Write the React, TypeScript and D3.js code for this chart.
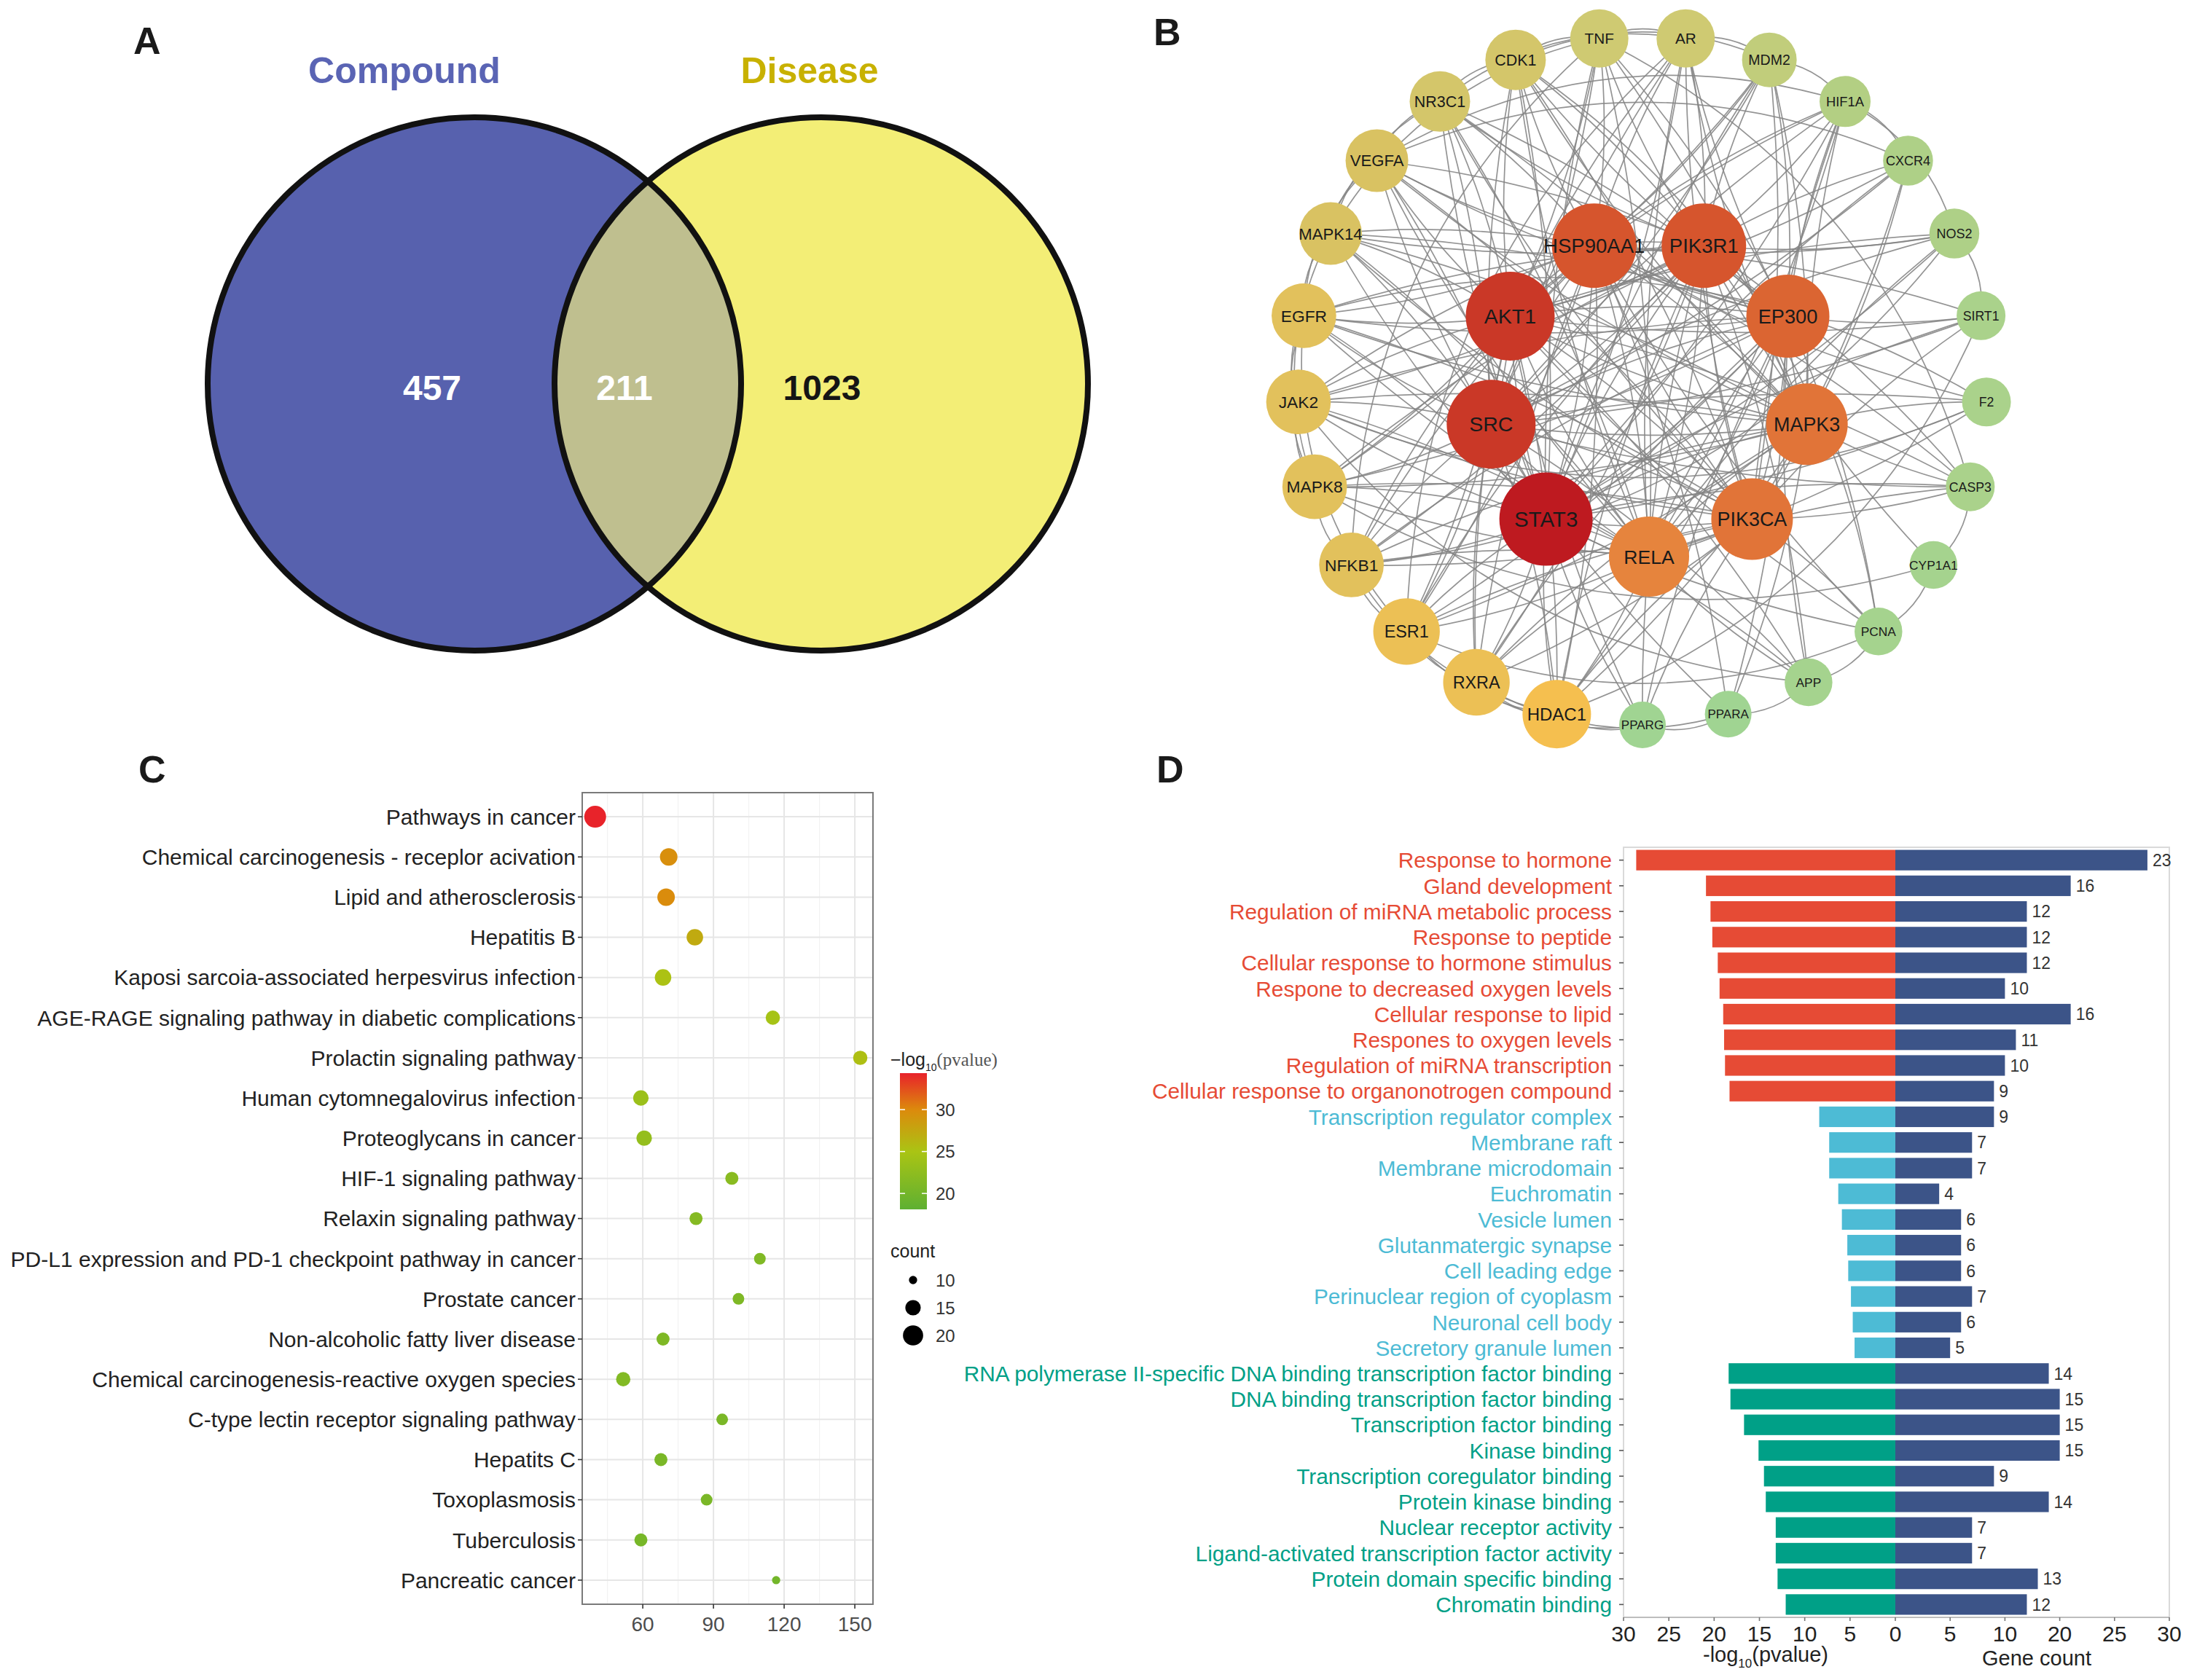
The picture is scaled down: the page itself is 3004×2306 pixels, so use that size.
import React, { useEffect } from "react";
import * as d3 from "d3";

const W = 3004;
const H = 2306;
const SANS = "'Liberation Sans', Arial, Helvetica, sans-serif";
const SERIF = "'Liberation Serif', 'Times New Roman', serif";

// ---------- A: Venn ----------
const vennSets = ["Compound", "Disease"];
const vennFill = ["#5761AE", "#F3EE76"];
const vennTitleColor = ["#5A64B4", "#C8B100"];
const vennCounts = [457, 211, 1023]; // compound only, shared, disease only

// ---------- B: PPI network ----------
const hubNodes = ["STAT3", "SRC", "AKT1", "HSP90AA1", "PIK3R1", "EP300", "MAPK3", "PIK3CA", "RELA"];
const hubDegree = [31, 30, 30, 29, 29, 28, 27, 27, 26];
const ringNodes = [
  "HDAC1", "RXRA", "ESR1", "NFKB1", "MAPK8", "JAK2", "EGFR", "MAPK14", "VEGFA", "NR3C1",
  "CDK1", "TNF", "AR", "MDM2", "HIF1A", "CXCR4", "NOS2", "SIRT1", "F2", "CASP3",
  "CYP1A1", "PCNA", "APP", "PPARA", "PPARG",
];
const ringDegree = [20, 19, 19, 18, 18, 18, 18, 17, 17, 16, 16, 15, 15, 14, 13, 12, 12, 11, 11, 11, 10, 10, 10, 9, 9];
// outer nodes that a hub is NOT linked to (hubs are linked to each other and to all the rest)
const hubMissing: Record<string, string[]> = {
  STAT3: ["CYP1A1", "PPARA"],
  SRC: ["CYP1A1", "PCNA", "PPARG"],
  AKT1: ["F2", "CYP1A1", "PPARA"],
  HSP90AA1: ["CXCR4", "CYP1A1", "PPARG", "APP"],
  PIK3R1: ["SIRT1", "F2", "PCNA", "PPARA"],
  EP300: ["CXCR4", "NOS2", "F2", "CASP3", "CYP1A1"],
  MAPK3: ["NOS2", "SIRT1", "CYP1A1", "PCNA", "APP", "PPARG"],
  PIK3CA: ["TNF", "NOS2", "F2", "CYP1A1", "APP", "PPARA"],
  RELA: ["MDM2", "CXCR4", "SIRT1", "CYP1A1", "PCNA", "PPARA", "PPARG"],
};
const ringLinks: [string, string][] = [
  ["HDAC1", "ESR1"], ["HDAC1", "RXRA"], ["HDAC1", "NFKB1"], ["HDAC1", "PPARG"], ["HDAC1", "SIRT1"],
  ["RXRA", "PPARG"], ["RXRA", "PPARA"], ["RXRA", "ESR1"], ["ESR1", "EGFR"], ["ESR1", "NFKB1"],
  ["ESR1", "AR"], ["ESR1", "PCNA"], ["NFKB1", "TNF"], ["NFKB1", "MAPK8"], ["NFKB1", "NOS2"],
  ["MAPK8", "JAK2"], ["MAPK8", "MAPK14"], ["JAK2", "EGFR"], ["JAK2", "F2"], ["EGFR", "VEGFA"],
  ["EGFR", "MAPK14"], ["MAPK14", "TNF"], ["VEGFA", "HIF1A"], ["VEGFA", "NR3C1"], ["VEGFA", "CXCR4"],
  ["NR3C1", "AR"], ["NR3C1", "CDK1"], ["CDK1", "MDM2"], ["CDK1", "PCNA"], ["TNF", "AR"],
  ["TNF", "CASP3"], ["AR", "MDM2"], ["MDM2", "HIF1A"], ["HIF1A", "CXCR4"], ["HIF1A", "NOS2"],
  ["NOS2", "SIRT1"], ["CASP3", "CYP1A1"], ["CYP1A1", "PCNA"], ["PCNA", "APP"], ["APP", "PPARA"],
  ["PPARA", "PPARG"], ["CYP1A1", "MAPK8"], ["F2", "EGFR"], ["APP", "JAK2"], ["MAPK14", "VEGFA"],
  ["EGFR", "MAPK8"], ["NR3C1", "MAPK14"], ["TNF", "CDK1"],
];
const degStops = [9, 13, 15, 17, 20, 26, 29, 31];
const degColors = ["#A0D492", "#B3CF83", "#CFCA72", "#D9C262", "#F5BF4F", "#E6843D", "#D6552D", "#BE1A20"];
const degRadius = [32, 35, 40, 43, 47, 55, 58, 64];

// ---------- C: KEGG dot plot ----------
const keggTerms = [
  "Pathways in cancer",
  "Chemical carcinogenesis - receplor acivation",
  "Lipid and atherosclerosis",
  "Hepatitis B",
  "Kaposi sarcoia-associated herpesvirus infection",
  "AGE-RAGE signaling pathway in diabetic complications",
  "Prolactin signaling pathway",
  "Human cytomnegalovirus infection",
  "Proteoglycans in cancer",
  "HIF-1 signaling pathway",
  "Relaxin signaling pathway",
  "PD-L1 expression and PD-1 checkpoint pathway in cancer",
  "Prostate cancer",
  "Non-alcoholic fatty liver disease",
  "Chemical carcinogenesis-reactive oxygen species",
  "C-type lectin receptor signaling pathway",
  "Hepatits C",
  "Toxoplasmosis",
  "Tuberculosis",
  "Pancreatic cancer",
];
const keggX = [39.8, 71.0, 69.9, 82.1, 68.6, 115.2, 152.3, 59.2, 60.6, 97.8, 82.6, 109.7, 100.6, 68.6, 51.7, 93.7, 67.7, 87.1, 59.2, 116.6];
const keggLogP = [34.3, 29.6, 29.8, 27.2, 25.2, 24.6, 25.4, 23.6, 23.0, 22.0, 21.6, 21.2, 21.0, 21.0, 21.4, 20.6, 20.6, 20.6, 20.4, 20.0];
const keggCount = [22, 17, 17, 16, 16, 14, 14, 15, 15, 13, 13, 12, 12, 13, 14, 12, 13, 12, 13, 10];
const keggXTicks = [60, 90, 120, 150];
const keggXMinor = [45, 75, 105, 135];
const pStops = [18.1, 25, 30, 34.35];
const pColors = ["#5EB032", "#AAC414", "#DC8A0C", "#E8222A"];
const pLegendTicks = [20, 25, 30];
const countLegend = [10, 15, 20];

// ---------- D: GO bars ----------
const bpTerms = [
  "Response to hormone", "Gland development", "Regulation of miRNA metabolic process",
  "Response to peptide", "Cellular response to hormone stimulus", "Respone to decreased oxygen levels",
  "Cellular response to lipid", "Respones to oxygen levels", "Regulation of miRNA transcription",
  "Cellular response to organonotrogen compound",
];
const bpLogP = [28.6, 20.9, 20.4, 20.2, 19.6, 19.4, 19.0, 18.9, 18.8, 18.3];
const bpCount = [23, 16, 12, 12, 12, 10, 16, 11, 10, 9];
const ccTerms = [
  "Transcription regulator complex", "Membrane raft", "Membrane microdomain", "Euchromatin",
  "Vesicle lumen", "Glutanmatergic synapse", "Cell leading edge", "Perinuclear region of cyoplasm",
  "Neuronal cell body", "Secretory granule lumen",
];
const ccLogP = [8.4, 7.3, 7.3, 6.3, 5.9, 5.3, 5.2, 4.9, 4.7, 4.5];
const ccCount = [9, 7, 7, 4, 6, 6, 6, 7, 6, 5];
const mfTerms = [
  "RNA polymerase II-specific DNA binding transcription factor binding",
  "DNA binding transcription factor binding", "Transcription factor binding", "Kinase binding",
  "Transcription coregulator binding", "Protein kinase binding", "Nuclear receptor activity",
  "Ligand-activated transcription factor activity", "Protein domain specific binding", "Chromatin binding",
];
const mfLogP = [18.4, 18.2, 16.7, 15.1, 14.5, 14.3, 13.2, 13.2, 13.0, 12.1];
const mfCount = [14, 15, 15, 15, 9, 14, 7, 7, 13, 12];
const goColors = ["#E64B35", "#4DBBD5", "#00A087"];
const countColor = "#3C5488";
const leftTicks = [30, 25, 20, 15, 10, 5, 0];
const rightTicks = [5, 10, 15, 20, 25];
const rightTickLabels = ["5", "10", "20", "25", "30"];

function VennPanel() {
  const r = 366;
  const cy = 527;
  const cx = [651, 1127];
  const labelX = [593, 857, 1128];
  return (
    <g>
      <defs>
        <clipPath id="venn-left">
          <circle cx={cx[0]} cy={cy} r={r} />
        </clipPath>
      </defs>
      {cx.map((c, i) => (
        <circle key={i} cx={c} cy={cy} r={r} fill={vennFill[i]} />
      ))}
      <circle cx={cx[1]} cy={cy} r={r} fill="#BFBF8F" clipPath="url(#venn-left)" />
      {cx.map((c, i) => (
        <circle key={"o" + i} cx={c} cy={cy} r={r} fill="none" stroke="#111" strokeWidth={8} />
      ))}
      {vennSets.map((s, i) => (
        <text key={s} x={[555, 1111][i]} y={114} textAnchor="middle" fontWeight="bold" fontSize={50} fill={vennTitleColor[i]}>
          {s}
        </text>
      ))}
      {vennCounts.map((v, i) => (
        <text key={i} x={labelX[i]} y={532} dy="0.36em" textAnchor="middle" fontWeight="bold" fontSize={48} fill={i < 2 ? "#fff" : "#151515"}>
          {v}
        </text>
      ))}
    </g>
  );
}

type NodePos = { name: string; x: number; y: number; deg: number };

function NetworkPanel() {
  const ringAngle = d3.scaleLinear().domain([0, ringNodes.length]).range([194.4, 554.4]);
  const hubAngle = d3.scaleLinear().domain([0, hubNodes.length]).range([220, 580]);
  const outer = { x: 2254, y: 522, r: 473 };
  const inner = { x: 2263, y: 544, r: 220 };
  const pos = new Map<string, NodePos>();
  ringNodes.forEach((n, i) => {
    const a = (ringAngle(i) * Math.PI) / 180;
    pos.set(n, { name: n, x: outer.x + outer.r * Math.sin(a), y: outer.y - outer.r * Math.cos(a), deg: ringDegree[i] });
  });
  hubNodes.forEach((n, i) => {
    const a = (hubAngle(i) * Math.PI) / 180;
    pos.set(n, { name: n, x: inner.x + inner.r * Math.sin(a), y: inner.y - inner.r * Math.cos(a), deg: hubDegree[i] });
  });

  const links: [string, string, boolean][] = [];
  hubNodes.forEach((a, i) => hubNodes.slice(i + 1).forEach((b) => links.push([a, b, false])));
  hubNodes.forEach((h) =>
    ringNodes.forEach((n) => {
      if (!hubMissing[h].includes(n)) links.push([h, n, false]);
    }),
  );
  ringLinks.forEach(([a, b]) => links.push([a, b, true]));

  const color = d3.scaleLinear<string>().domain(degStops).range(degColors).interpolate(d3.interpolateRgb);
  const radius = d3.scaleLinear().domain(degStops).range(degRadius);
  const fontSize = d3.scaleLinear().domain([32, 47, 64]).range([17, 24, 29.5]);

  const edgePath = (s: NodePos, t: NodePos, ring: boolean, i: number) => {
    const mx = (s.x + t.x) / 2;
    const my = (s.y + t.y) / 2;
    const dx = t.x - s.x;
    const dy = t.y - s.y;
    let k = ring ? 0.22 : i % 2 === 0 ? 0.07 : -0.07;
    if (ring) {
      const c1 = Math.hypot(mx - dy * k - outer.x, my + dx * k - outer.y);
      const c2 = Math.hypot(mx + dy * k - outer.x, my - dx * k - outer.y);
      if (c2 > c1) k = -k;
    }
    const p = d3.path();
    p.moveTo(s.x, s.y);
    p.quadraticCurveTo(mx - dy * k, my + dx * k, t.x, t.y);
    return p.toString();
  };

  const nodes = [...ringNodes, ...hubNodes].map((n) => pos.get(n)!);
  return (
    <g>
      <g fill="none" stroke="#858585" strokeWidth={1.7} strokeOpacity={0.88}>
        {links.map(([a, b, ring], i) => (
          <path key={i} d={edgePath(pos.get(a)!, pos.get(b)!, ring, i)} />
        ))}
      </g>
      {nodes.map((n) => {
        const r = radius(n.deg);
        return (
          <g key={n.name}>
            <circle cx={n.x} cy={n.y} r={r} fill={color(n.deg)} />
            <text x={n.x} y={n.y} dy="0.36em" textAnchor="middle" fontSize={fontSize(r)} fill="#1A1A1A">
              {n.name}
            </text>
          </g>
        );
      })}
    </g>
  );
}

function DotPanel() {
  const left = 799;
  const right = 1198;
  const top = 1088;
  const bottom = 2202;
  const x = d3.scaleLinear().domain([34.3, 157.7]).range([left, right]);
  const y = d3.scalePoint<string>().domain(keggTerms).range([top, bottom]).padding(0.6);
  const color = d3.scaleLinear<string>().domain(pStops).range(pColors).interpolate(d3.interpolateRgb);
  const size = d3.scaleRadial().domain([9, 23]).range([4, 15.5]);
  const legY = d3.scaleLinear().domain([pStops[0], pStops[pStops.length - 1]]).range([1660, 1473]);
  const legendRows = [1757, 1795, 1833];

  return (
    <g>
      <rect x={left} y={top} width={right - left} height={bottom - top} fill="#fff" />
      {keggXMinor.map((v) => (
        <line key={"m" + v} x1={x(v)} x2={x(v)} y1={top} y2={bottom} stroke="#F2F2F2" strokeWidth={1.2} />
      ))}
      {keggXTicks.map((v) => (
        <line key={"M" + v} x1={x(v)} x2={x(v)} y1={top} y2={bottom} stroke="#E6E6E6" strokeWidth={2} />
      ))}
      {keggTerms.map((t) => (
        <line key={t} x1={left} x2={right} y1={y(t)} y2={y(t)} stroke="#E6E6E6" strokeWidth={2} />
      ))}
      <rect x={left} y={top} width={right - left} height={bottom - top} fill="none" stroke="#7A7A7A" strokeWidth={2} />
      {keggTerms.map((t, i) => (
        <g key={"d" + t}>
          <line x1={left - 6} x2={left} y1={y(t)} y2={y(t)} stroke="#333" strokeWidth={1.6} />
          <text x={left - 9} y={y(t)} dy="0.36em" textAnchor="end" fontSize={30} fill="#222">
            {t}
          </text>
          <circle cx={x(keggX[i])} cy={y(t)} r={size(keggCount[i])} fill={color(keggLogP[i])} />
        </g>
      ))}
      {keggXTicks.map((v) => (
        <g key={"t" + v}>
          <line x1={x(v)} x2={x(v)} y1={bottom} y2={bottom + 6} stroke="#333" strokeWidth={1.6} />
          <text x={x(v)} y={bottom + 37} textAnchor="middle" fontSize={28} fill="#4D4D4D">
            {v}
          </text>
        </g>
      ))}

      {/* colour legend */}
      <defs>
        <linearGradient id="pval-grad" x1="0" y1="1" x2="0" y2="0">
          {pStops.map((s, i) => (
            <stop key={s} offset={(s - pStops[0]) / (pStops[pStops.length - 1] - pStops[0])} stopColor={pColors[i]} />
          ))}
        </linearGradient>
      </defs>
      <text x={1222} y={1463} fontSize={25} fill="#222">
        <tspan>−log</tspan>
        <tspan fontSize={14} dy={7}>10</tspan>
        <tspan dy={-7} fontFamily={SERIF} fill="#555">(pvalue)</tspan>
      </text>
      <rect x={1235} y={legY(pStops[pStops.length - 1])} width={37} height={legY(pStops[0]) - legY(pStops[pStops.length - 1])} fill="url(#pval-grad)" />
      {pLegendTicks.map((v) => (
        <g key={"lt" + v}>
          <line x1={1235} x2={1242} y1={legY(v)} y2={legY(v)} stroke="#fff" strokeWidth={1.5} />
          <line x1={1265} x2={1272} y1={legY(v)} y2={legY(v)} stroke="#fff" strokeWidth={1.5} />
          <text x={1284} y={legY(v)} dy="0.36em" fontSize={24} fill="#333">
            {v}
          </text>
        </g>
      ))}
      <text x={1222} y={1717} dy="0.36em" fontSize={25} fill="#222">count</text>
      {countLegend.map((v, i) => (
        <g key={"cl" + v}>
          <circle cx={1253} cy={legendRows[i]} r={size(v)} fill="#000" />
          <text x={1284} y={legendRows[i]} dy="0.36em" fontSize={24} fill="#333">
            {v}
          </text>
        </g>
      ))}
    </g>
  );
}

function BarPanel() {
  const terms = [...bpTerms, ...ccTerms, ...mfTerms];
  const logp = [...bpLogP, ...ccLogP, ...mfLogP];
  const counts = [...bpCount, ...ccCount, ...mfCount];
  const cat = [...bpTerms.map(() => 0), ...ccTerms.map(() => 1), ...mfTerms.map(() => 2)];
  const top = 1163;
  const bottom = 2220;
  const y = d3.scaleBand<string>().domain(terms).range([top, bottom]).paddingInner(0.2).paddingOuter(0.1);
  const xl = d3.scaleLinear().domain([0, 30]).range([2601, 2228]);
  const xr = d3.scaleLinear().domain([0, 25]).range([2601, 2977]);
  const bw = y.bandwidth();

  return (
    <g>
      <rect x={xl(30)} y={top} width={xr(25) - xl(30)} height={bottom - top} fill="none" stroke="#DADADA" strokeWidth={2} />
      {terms.map((t, i) => {
        const yc = (y(t) as number) + bw / 2;
        return (
          <g key={t}>
            <rect x={xl(logp[i])} y={y(t)} width={xl(0) - xl(logp[i])} height={bw} fill={goColors[cat[i]]} />
            <rect x={xr(0)} y={y(t)} width={xr(counts[i]) - xr(0)} height={bw} fill={countColor} />
            <line x1={xl(30) - 6} x2={xl(30)} y1={yc} y2={yc} stroke="#555" strokeWidth={1.6} />
            <text x={2212} y={yc} dy="0.36em" textAnchor="end" fontSize={29.8} fill={goColors[cat[i]]}>
              {t}
            </text>
            <text x={xr(counts[i]) + 7} y={yc} dy="0.36em" fontSize={23} fill="#333">
              {counts[i]}
            </text>
          </g>
        );
      })}
      <line x1={xl(30)} x2={xr(25)} y1={bottom} y2={bottom} stroke="#BDBDBD" strokeWidth={2} />
      {leftTicks.map((v) => (
        <g key={"l" + v}>
          <line x1={xl(v)} x2={xl(v)} y1={bottom} y2={bottom + 5} stroke="#777" strokeWidth={1.6} />
          <text x={xl(v)} y={bottom + 33} textAnchor="middle" fontSize={30} fill="#222">
            {v}
          </text>
        </g>
      ))}
      {rightTicks.map((v, i) => (
        <g key={"r" + v}>
          <line x1={xr(v)} x2={xr(v)} y1={bottom} y2={bottom + 5} stroke="#777" strokeWidth={1.6} />
          <text x={xr(v)} y={bottom + 33} textAnchor="middle" fontSize={30} fill="#222">
            {rightTickLabels[i]}
          </text>
        </g>
      ))}
      <text x={2423} y={2281} textAnchor="middle" fontSize={29} fill="#222">
        <tspan>-log</tspan>
        <tspan fontSize={17} dy={8}>10</tspan>
        <tspan dy={-8}>(pvalue)</tspan>
      </text>
      <text x={2795} y={2286} textAnchor="middle" fontSize={29} fill="#222">
        Gene count
      </text>
    </g>
  );
}

export default function App() {
  useEffect(() => {
    document.body.style.margin = "0";
  }, []);

  const letters = [
    { t: "A", x: 183, y: 74 },
    { t: "B", x: 1583, y: 62 },
    { t: "C", x: 190, y: 1074 },
    { t: "D", x: 1587, y: 1074 },
  ];

  return (
    <svg width={W} height={H} viewBox={`0 0 ${W} ${H}`} style={{ display: "block" }} fontFamily={SANS}>
      <rect width={W} height={H} fill="#fff" />
      <VennPanel />
      <NetworkPanel />
      <DotPanel />
      <BarPanel />
      {letters.map((l) => (
        <text key={l.t} x={l.x} y={l.y} fontSize={52} fontWeight="bold" fill="#1A1A1A">
          {l.t}
        </text>
      ))}
    </svg>
  );
}
